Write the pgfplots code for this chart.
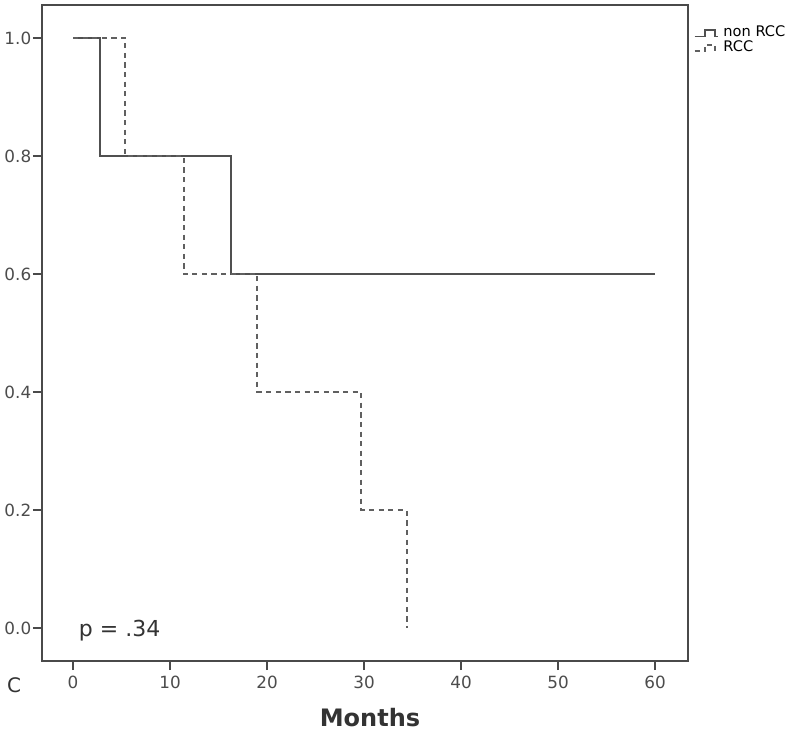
\documentclass[border=0pt]{standalone}
\usepackage{fontspec}
\setmainfont{DejaVu Sans}
\usepackage{pgfplots}
\pgfplotsset{compat=1.18}
\usetikzlibrary{calc}

\definecolor{curve}{HTML}{505050}
\definecolor{dashc}{HTML}{606060}
\definecolor{frame}{HTML}{4A4A4A}

\begin{document}
\begin{tikzpicture}
\begin{axis}[
  name=km,
  scale only axis,
  width=323pt, height=328pt,
  xmin=-3.2, xmax=63.4,
  ymin=-0.056, ymax=1.056,
  xtick={0,10,...,60},
  ytick={0,0.2,...,1.0},
  yticklabel style={inner xsep=0.6pt, /pgf/number format/.cd, fixed, fixed zerofill, precision=1},
  /pgf/number format/assume math mode=true,
  tick label style={font=\fontsize{8.4}{10}\selectfont, text=black!70},
  xticklabel style={inner ysep=2.5pt},
  tick align=outside,
  major tick length=4.6pt,
  xtick pos=bottom, ytick pos=left,
  axis line style={frame, line width=0.9pt},
  every tick/.style={frame, line width=0.9pt},
  legend style={at={(1.008,0.979)}, anchor=north west, draw=none, fill=none,
    font=\fontsize{7.3}{8}\selectfont, row sep=-2.5pt, inner xsep=0pt,
    nodes={inner ysep=1.5pt}},
  legend cell align=left,
  legend image code/.code={\draw[#1] (0cm,-0.06cm) -- (0.18cm,-0.06cm) -- (0.18cm,0.06cm) -- (0.36cm,0.06cm) -- (0.36cm,-0.06cm) -- (0.42cm,-0.06cm);},
  clip=false,
]
% non RCC
\addplot[const plot, curve, line width=0.9pt] coordinates {
  (0,1.0) (2.8,0.8) (16.3,0.6) (60,0.6)
};
\addlegendentry{non RCC}
% RCC
\addplot[const plot, dashc, line width=1pt, dash pattern=on 2.6pt off 2.2pt] coordinates {
  (0,1.0) (5.4,0.8) (11.4,0.6) (19.0,0.4) (29.7,0.2) (34.4,0.0) (34.4,0.0)
};
\addlegendentry{RCC}
\node[font=\fontsize{11}{13}\selectfont, text=black!80] at (axis cs:4.8,-0.005) {p = .34};
\end{axis}
\node[font=\fontsize{10}{12}\selectfont, text=black!80] at ($(km.south west)+(-14pt,-12pt)$) {C};
\node[font=\bfseries\fontsize{12}{14}\selectfont, text=black!80] at ($(km.south west)+(164pt,-28.5pt)$) {Months};
\pgfresetboundingbox
\path[use as bounding box] ($(km.south west)+(-21pt,330.5pt)$) rectangle ($(km.south west)+(379pt,-35.5pt)$);
\end{tikzpicture}
\end{document}
